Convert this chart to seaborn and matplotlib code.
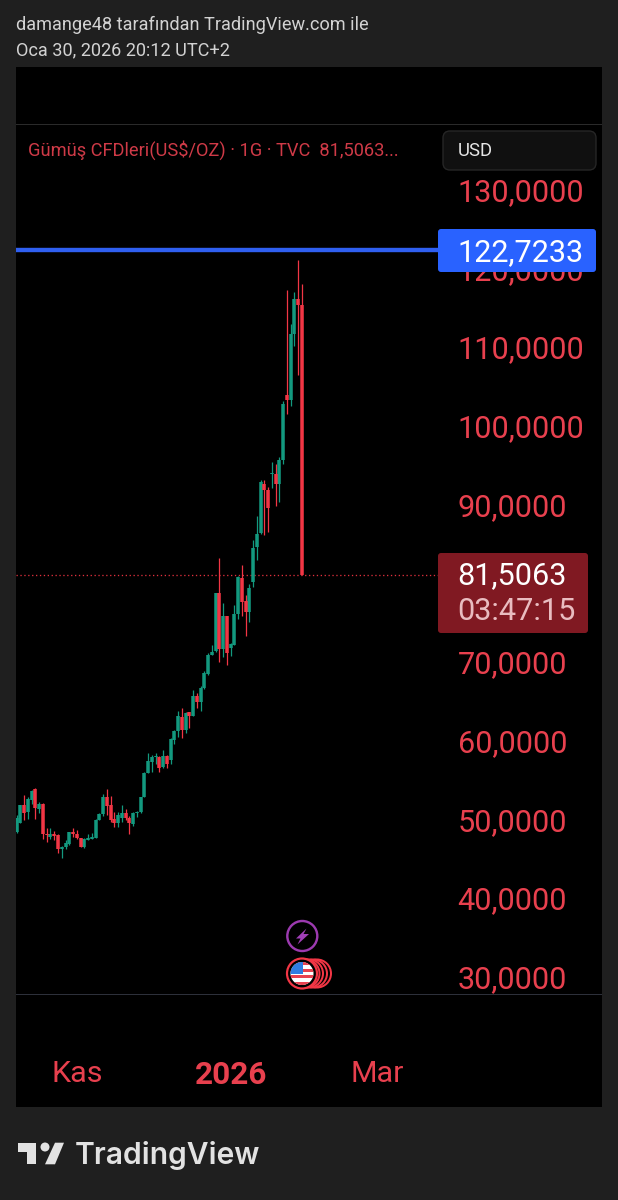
import numpy as np
import pandas as pd
import seaborn as sns
import matplotlib
matplotlib.use("Agg")
import matplotlib.pyplot as plt
from matplotlib.patches import Circle, FancyBboxPatch, Polygon, Rectangle
from matplotlib.transforms import Affine2D, ScaledTranslation

# Daily silver candles, TVC, in USD per ounce
opens = [48.9, 50.05, 52.28, 51.43, 52.91, 54.31, 51.77, 52.41, 48.65, 48.25, 48.65, 48.45, 46.75, 46.91, 47.33,
         48.9, 48.55, 48.05, 46.99, 47.85, 48.01, 48.15, 50.35, 51.15, 53.25, 52.28, 50.45, 50.05, 50.59, 51.22,
         50.59, 49.85, 51.25, 51.39, 53.35, 56.3, 57.75, 58.33, 58.41, 57.15, 58.55, 57.99, 60.55, 61.71, 63.49,
         61.8, 64.05, 63.65, 66.11, 65.35, 67.09, 68.9, 71.32, 71.82, 79.25, 72.15, 76.25, 72.29, 72.65, 76.52,
         81.15, 78.25, 76.81, 80.62, 85.05, 86.85, 93.1, 92.25, 94.29, 94.35, 93.02, 96.05, 104.31, 103.75, 112.05,
         116.58, 115.82]
closes = [50.59, 52.28, 51.31, 53.0, 54.1, 51.85, 52.41, 48.6, 48.45, 48.65, 48.35, 46.75, 47.0, 47.42, 48.81,
          48.55, 48.05, 46.99, 47.92, 48.05, 48.25, 50.35, 51.15, 53.25, 52.2, 50.38, 49.95, 51.01, 51.22, 50.59,
          49.95, 51.31, 51.43, 53.25, 56.38, 57.91, 58.41, 58.5, 56.95, 58.45, 57.55, 60.65, 61.71, 63.55, 61.8,
          64.0, 63.65, 66.11, 65.35, 67.15, 69.05, 71.4, 71.75, 79.25, 72.15, 76.25, 71.55, 72.71, 76.52, 81.25,
          78.05, 76.81, 79.85, 84.95, 86.75, 93.25, 92.25, 90.05, 94.45, 93.02, 96.05, 103.25, 103.75, 112.05, 116.58,
          115.75, 81.5063]
highs = [51.01, 52.28, 53.55, 53.35, 54.18, 54.4, 52.7, 52.49, 49.32, 49.32, 49.02, 48.55, 47.1, 47.85, 48.9,
         49.32, 49.11, 48.13, 48.05, 48.6, 48.75, 50.45, 51.25, 53.65, 54.31, 53.45, 51.45, 51.43, 52.28, 51.77,
         50.88, 51.43, 51.55, 53.35, 56.45, 58.85, 58.65, 58.85, 58.45, 59.25, 58.65, 60.75, 61.85, 64.25, 64.55,
         64.15, 64.15, 66.85, 66.55, 67.35, 69.35, 71.55, 72.65, 79.25, 83.71, 77.95, 76.35, 72.8, 77.75, 81.35,
         82.75, 78.95, 80.41, 85.91, 89.0, 93.55, 93.61, 92.65, 95.85, 95.55, 96.55, 103.65, 117.72, 113.4, 117.42,
         121.55, 118.4]
lows = [48.75, 50.05, 50.35, 50.55, 52.45, 50.55, 51.25, 47.92, 47.65, 47.92, 47.85, 46.15, 45.51, 46.75, 47.2,
        48.25, 47.92, 46.91, 46.85, 47.85, 47.92, 48.15, 50.35, 50.85, 51.01, 50.08, 49.55, 49.45, 50.15, 50.38,
        48.6, 49.65, 50.71, 51.25, 53.25, 56.3, 56.51, 57.55, 56.51, 56.95, 56.95, 57.55, 60.05, 60.95, 60.75,
        61.45, 62.1, 63.55, 64.65, 64.25, 67.0, 68.82, 71.32, 71.75, 70.45, 71.1, 70.05, 71.25, 72.55, 75.95,
        76.35, 73.75, 75.55, 79.99, 83.45, 86.75, 86.55, 86.95, 92.59, 90.25, 90.75, 95.55, 101.95, 102.95, 110.55,
        106.85, 81.5063]

price_ticks = [130, 120, 110, 100, 90, 80, 70, 60, 50, 40, 30]
price_labels = ["130,0000", "120,0000", "110,0000", "100,0000", "90,0000", "",
                "70,0000", "60,0000", "50,0000", "40,0000", "30,0000"]
time_ticks = [16, 57, 96]
time_labels = ["Kas", "2026", "Mar"]
alert_price = 122.7233
last_price = 81.5063
countdown = "03:47:15"

GREEN = "#13997f"
RED = "#f23645"
BG = "#1f1f1f"
FONT = "Roboto"

sns.set_theme(style="dark", rc={"axes.facecolor": "black", "figure.facecolor": BG})
plt.rcParams["font.family"] = FONT

W, H = 618, 1200
fig = plt.figure(figsize=(W / 100, H / 100), dpi=100, facecolor=BG)
ax = fig.add_axes([16 / W, 1 - 1107 / H, 586 / W, (1107 - 67) / H], facecolor="black")

# Screen-pixel coordinates for the interface furniture around the chart
px = Affine2D().scale(1, -1).translate(0, H)


def pt(pixels):
    return pixels * 72 / 100


frame = pd.DataFrame({"day": np.arange(len(opens)), "open": opens, "close": closes,
                      "high": highs, "low": lows})
frame["side"] = np.where(frame["close"] >= frame["open"], "up", "down")
palette = {"up": GREEN, "down": RED}

wicks = frame.melt(id_vars=["day", "side"], value_vars=["low", "high"], value_name="price")
bodies = frame.melt(id_vars=["day", "side"], value_vars=["open", "close"], value_name="price")

sns.lineplot(data=wicks, x="day", y="price", hue="side", units="day", estimator=None, palette=palette,
             linewidth=pt(1.25), legend=False, ax=ax, solid_capstyle="butt", zorder=3)
sns.lineplot(data=bodies, x="day", y="price", hue="side", units="day", estimator=None, palette=palette,
             linewidth=pt(3.5), legend=False, ax=ax, solid_capstyle="butt", zorder=3.2)

# Pixel position of a bar: 16.7 + 3.754 * day; price scale: 50 sits at y=823, 7.873 px per unit
ax.set_xlim((16 - 16.7) / 3.754, (602 - 16.7) / 3.754)
ax.set_ylim(50 + (823 - 1107) / 7.873, 50 + (823 - 67) / 7.873)
ax.grid(False)
ax.set_xlabel("")
ax.set_ylabel("")
for side in ax.spines.values():
    side.set_visible(False)

# Price axis labels sit inside the panel, as on the trading screen
ax.yaxis.tick_right()
ax.set_yticks(price_ticks, price_labels)
ax.tick_params(axis="y", length=0, pad=pt(-(602 - 457.5)), labelsize=pt(30.7), labelcolor="#e8404e")
ax.set_xticks(time_ticks, time_labels)
ax.tick_params(axis="x", length=0, pad=pt(-(1107 - 1060)), labelsize=pt(30.5), labelcolor="#e8404e")
ax.get_xticklabels()[1].set_fontweight("bold")
ax.get_xticklabels()[1].set_fontsize(pt(31.5))
raise_labels = ScaledTranslation(0, pt(3.7) / 72, fig.dpi_scale_trans)
for tick_label in ax.get_yticklabels():
    tick_label.set_transform(tick_label.get_transform() + raise_labels)

# Reference lines for the alert level and the last price
ax.plot([-0.19, (438 - 16.7) / 3.754], [alert_price] * 2, color="#2f5ff0", lw=pt(4.4),
        solid_capstyle="butt", zorder=4)
ax.plot([-0.19, (438 - 16.7) / 3.754], [last_price] * 2, color="#e0303e", lw=pt(1.3),
        ls=(0, (1, 2)), zorder=2)


def box(x0, y0, x1, y1, face, edge="none", radius=3, z=6):
    patch = FancyBboxPatch((x0 + radius, y0 + radius), x1 - x0 - 2 * radius, y1 - y0 - 2 * radius,
                           boxstyle=f"round,pad={radius},rounding_size={radius}", transform=px,
                           facecolor=face, edgecolor=edge, linewidth=1, zorder=z, clip_on=False)
    fig.add_artist(patch)
    return patch


def label(x, y, text, size, color, ha="left", va="center", weight="normal", family=FONT, z=7):
    fig.text(x, y, text, transform=px, fontsize=pt(size), color=color, ha=ha, va=va,
             fontweight=weight, family=family, zorder=z)


# Page header and legend
label(16, 23, "damange48 tarafından TradingView.com ile", 18.1, "#d2d2d2", va="center_baseline")
label(16, 48.5, "Oca 30, 2026 20:12 UTC+2", 18.2, "#d2d2d2", va="center_baseline")
fig.add_artist(Rectangle((16, 124), 586, 1, transform=px, facecolor="#2a2a2a", edgecolor="none", zorder=5))
fig.add_artist(Rectangle((16, 994), 586, 1, transform=px, facecolor="#2d303a", edgecolor="none", zorder=5))
label(28, 148, "Gümüş CFDleri(US$/OZ) · 1G · TVC  81,5063...", 18.3, "#cf3a47", va="center_baseline")

# Currency button and price tags
box(443, 131, 596, 170, "#101010", edge="#262626", radius=7)
label(458, 149.5, "USD", 18.5, "#e6e6e6", va="center_baseline")
box(438, 229, 596, 272, "#2962ff", radius=3)
label(457.5, 250, f"{alert_price:.4f}".replace(".", ","), 30.7, "white", va="center_baseline")
box(438, 553, 588, 633, "#801922", radius=3)
label(457.5, 573, f"{last_price:.4f}".replace(".", ","), 30.7, "white", va="center_baseline")
label(457.5, 608, countdown, 30.7, "#e9bcc0", va="center_baseline")

# Event markers above the time axis
fig.add_artist(Circle((302.3, 936), 15, transform=px, facecolor="black", edgecolor="#9c3ab0", lw=pt(2.4), zorder=6))
fig.add_artist(Polygon([(306.5, 928.5), (296, 938.5), (300.5, 938.5), (297.5, 944.5), (309, 934), (303.5, 934)],
                       closed=True, transform=px, facecolor="#a13fb8", edgecolor="none", zorder=7))
for dx in (15, 11, 7, 3.5):
    fig.add_artist(Circle((302 + dx, 973.5), 14, transform=px, facecolor="black", edgecolor=RED,
                          lw=pt(2), zorder=6))
fig.add_artist(Circle((302, 973.5), 15, transform=px, facecolor="black", edgecolor=RED, lw=pt(2.2), zorder=7))
disc = Circle((302, 973.5), 11.5, transform=px, facecolor="white", edgecolor="none", zorder=8)
fig.add_artist(disc)
for top in (962, 968.5, 975, 981.5):
    stripe = Rectangle((290, top), 24, 3.2, transform=px, facecolor="#e8414f", edgecolor="none", zorder=8.1)
    fig.add_artist(stripe)
    stripe.set_clip_path(disc)
canton = Rectangle((290, 961), 12.5, 12.5, transform=px, facecolor="#2f7de1", edgecolor="none", zorder=8.2)
fig.add_artist(canton)
canton.set_clip_path(disc)

# Brand mark and wordmark in the footer
LOGO = "#e2e2e2"
fig.add_artist(Polygon([(18.3, 1142.7), (36, 1142.7), (36, 1164.3), (27.3, 1164.3), (27.3, 1151.7), (18.3, 1151.7)],
                       closed=True, transform=px, facecolor=LOGO, edgecolor="none"))
fig.add_artist(Circle((45, 1147), 4.5, transform=px, facecolor=LOGO, edgecolor="none"))
fig.add_artist(Polygon([(55, 1142.7), (64, 1142.7), (55, 1164.3), (45, 1164.3)],
                       closed=True, transform=px, facecolor=LOGO, edgecolor="none"))
label(75, 1164.3, "TradingView", 30, LOGO, va="baseline", weight="semibold", family="Inter")

fig.savefig("out.png", dpi=100, facecolor=BG)
